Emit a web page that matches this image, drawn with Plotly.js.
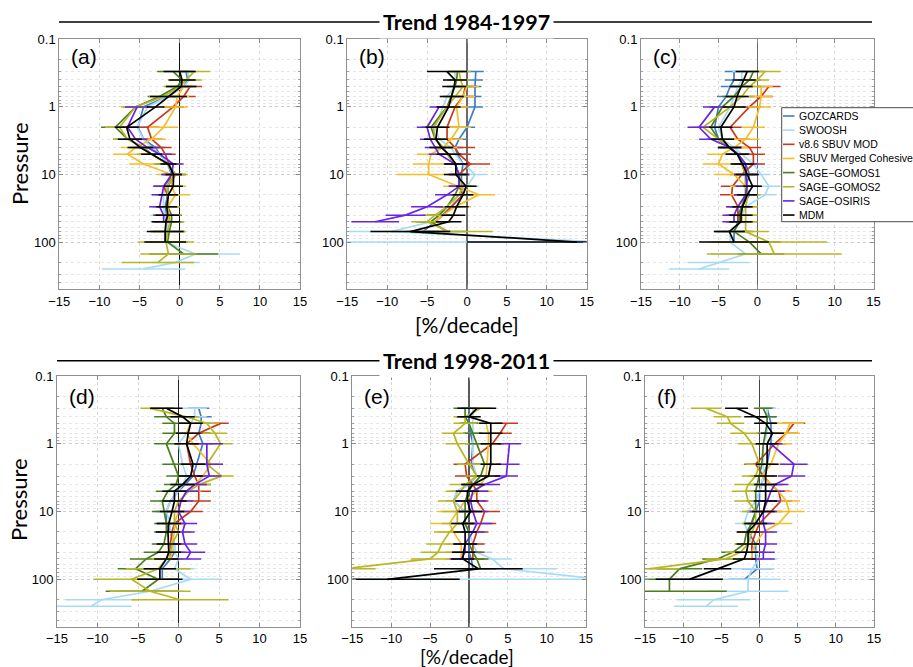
<!DOCTYPE html>
<html>
<head>
<meta charset="utf-8">
<script src="https://cdn.plot.ly/plotly-3.0.1.min.js"></script>
<style>html,body{margin:0;padding:0;background:#fff;}#chart{width:913px;height:667px;}</style>
</head>
<body>
<div id="chart"></div>
<script>
// ---------------- DATA ----------------
const pressure = [0.3,0.4,0.5,0.7,1,2,3,4,5,7,10,15,20,30,40,50,70,100,150,200,250];
const yTickVals = [0.1,1,10,100];
const yTickText = ['0.1','1','10','100'];
const xTickVals = [-15,-10,-5,0,5,10,15];
const seriesNames = ['GOZCARDS','SWOOSH','v8.6 SBUV MOD','SBUV Merged Cohesive','SAGE\u2212GOMOS1','SAGE\u2212GOMOS2','SAGE\u2212OSIRIS','MDM'];
const panelLabels = ['(a)','(b)','(c)','(d)','(e)','(f)'];
const rowTitles = ['Trend 1984-1997','Trend 1998-2011'];
const n = null;

// Panel (a) 1984-1997
const a_goz = [0.8,1.0,0.5,-1.5,-4.5,-5.2,-4.5,-3,-2.5,-1.5,-1,-1.5,-1.5,-1.8,-1.8,-1.7,-1.8,-1.8];
const a_gozErr = [1,1,1,1,1.2,1.2,1.2,1.2,1.2,1.2,1.2,1.2,1.2,1.5,1.5,1.5,1.8,2];
const a_swo = [1.0,1.2,0.5,-1.5,-4,-5.3,-4.5,-3.5,-2.5,-1.5,-0.8,-1.8,-2,-2,-1.8,-1.5,-1.5,-1.8,2.0,-0.5,-4.5];
const a_swoErr = [1.2,1.2,1.2,1.2,1.2,1.2,1.2,1.2,1.2,1.2,1.5,1.5,1.5,1.5,1.8,2,2,2.5,5.5,3,5.2];
const a_mod = [n,n,1.3,0.5,-0.8,-4,-3.5,-2.3,-1.8,-1.3,-0.8,-2,-1.5,-1.5,-1.5,-1.5];
const a_modErr = [n,n,1.5,1.5,1.3,1.5,1.3,1.3,1.3,1.3,1.2,1.2,1.2,1.2,1.2,1.2];
const a_mc = [n,n,0.5,-0.3,-0.5,-2,-3.5,-5.5,-6.5,-4.5,-1,-1,-0.5,-1.5,-1.5,-1.5];
const a_mcErr = [n,n,1.5,1.5,1.5,1.8,1.8,1.8,1.8,1.8,1.8,1.8,1.8,1.5,1.5,1.5];
const a_g1 = [-0.8,0.3,-0.3,-2.5,-5.5,-8,-6.5,-4.5,-3.5,-1.5,-0.5,-1.5,-1.5,-1.5,-1,-1,-1.3,-1.5,0.5];
const a_g1Err = [2,1.5,1.5,1.5,1.5,1.8,1.8,1.5,1.5,1.5,1.3,1.3,1.3,1.3,1.3,1.5,2,2.5,4.3];
const a_g2 = [1.8,0.8,0,-2,-5.5,-7.5,-6.5,-4.5,-3.5,-1.5,-0.5,-1.5,-1.5,-1.5,-1.3,-1.2,-1.5,-1.7,-1.4,-2.7];
const a_g2Err = [2,2,2,1.8,1.8,1.8,1.8,1.8,1.8,1.8,1.5,1.5,1.5,1.5,1.5,1.8,2.2,3.5,3.5,4.5];
const a_osi = [n,n,n,n,-5.3,-6.5,-5.5,-4,-2.5,-0.8,-1,-2,-2.2,-2.5,-2,-2];
const a_osiErr = [n,n,n,n,1.5,1.5,1.5,1.5,1.5,1.3,1.3,1.3,1.3,1.3,1.3,1.3];
const a_mdm = [0,0.3,0.2,-1.4,-3,-6.6,-6.2,-4.9,-3.5,-1.4,-0.75,-0.8,-1.4,-1.6,-1.5,-1.7,-1.8,-1.8];
const a_mdmErr = [2,1.7,1.9,2.3,1.1,1.5,1.5,1.6,1.3,1.0,1.0,1.2,1.2,1.3,1.5,1.8,2.3,2.6];

// Panel (b)
const b_goz = [1.1,1.0,1.0,1.0,1.0,0,-1,-1.5,-1.2,-0.5,-0.7,-0.7,-0.5,-2,-3,-4,-5.5];
const b_gozErr = [1,1,0.8,0.8,1,1,1,1,1,1,1,1,1,1.2,1.5,1.8,2];
const b_swo = [-1.5,-1.5,-1.5,-2.5,-3,-4,-3.5,-2,-1.5,-0.5,1.0,0,-1,-2,-3.5,-4.5,-9.5,17];
const b_swoErr = [1,1,1,1,1,1.2,1.2,1.2,1.2,1.2,1.5,1.5,1.5,1.5,1.8,2,5.5,32];
const b_mod = [n,n,-0.2,-0.5,-1.5,-2.5,-2.5,-1.5,-1.0,0.4,-1,-1,-0.5,-2,-3,-4];
const b_modErr = [n,n,1.5,1.5,1.5,1.5,1.5,2.5,1.5,2.5,1.3,1.3,1.3,1.3,1.3,1.3];
const b_mc = [n,n,0,-0.5,-1.3,-1,-2,-3,-4.5,-4.8,-4.8,-1,1.5,-1.5,-3,-4];
const b_mcErr = [n,n,1.5,1.5,1.5,1.5,1.5,1.8,1.8,2,4,2,2,2,2,2];
const b_g1 = [-1.2,-1.3,-1.5,-2,-2.5,-4.5,-4,-3,-2.5,-1.5,-1,-1,-1.5,-2.5,-3.5,-4.5,-2.5];
const b_g1Err = [1,1,1,1,1,1.2,1.2,1.2,1.2,1.2,1.2,1.2,1.2,1.5,1.5,1.8,2.5];
const b_g2 = [-1,-0.8,-0.5,-1.5,-2.5,-4.2,-4,-3,-2.5,-1.5,-1,-0.5,-1,-2.5,-4,-5,-2.3];
const b_g2Err = [1.5,1.2,1.2,1.2,1.2,1.2,1.2,1.2,1.2,1.2,1.2,1.2,1.2,1.5,1.5,2,5.5];
const b_osi = [n,n,n,n,-3.5,-5,-4.6,-4,-3.5,-1.5,-1,-1,-2.5,-5,-7.7,-11.5];
const b_osiErr = [n,n,n,n,1.2,1.3,1.3,1.3,1.3,1.3,1.3,1.3,1.5,2,2.5,3];
const b_mdm = [-2.5,-1.5,-1.6,-1.9,-2.3,-3.7,-3.9,-3.2,-2.3,-1.4,-1.4,-0.1,-0.5,-1.3,-1.7,-2.3,-7.1,13.8];
const b_mdmErr = [2.5,1.5,1.5,1.5,1.5,1.5,1.5,1.5,1.5,1.5,1.5,1.3,1.3,1.5,1.5,1.6,5,13.8];

// Panel (c)
const c_goz = [-3,-3,-3.5,-4,-5,-5.5,-5,-3.5,-2.5,-1.5,-1,-1.5,-1,-2,-2.5,-2.5,-3,-3];
const c_gozErr = [1.2,1.2,1.2,1.2,1.2,1.2,1.2,1.2,1.2,1.2,1.2,1.2,1.2,1.2,1.2,1.5,2,2.5];
const c_swo = [-2,-2,-2.5,-3,-3.5,-5,-4.5,-3,-2,-0.5,0.5,1.5,1.0,-1.5,-2,-2,-3.5,-3.5,-1.5,-5,-7.5];
const c_swoErr = [1.2,1.2,1.2,1.2,1.2,1.2,1.2,1.2,1.2,1.2,1.2,1.5,1.5,1.5,1.5,1.5,2,3,4.5,4,3.9];
const c_mod = [n,n,1.5,0.5,-1,-3.5,-2.5,-1,-0.5,-0.5,-2,-3.2,-3.3,-2.5,-2.5,-2.5];
const c_modErr = [n,n,1.5,1.5,1.5,1.5,1.5,1.5,1.5,1.5,1.5,1.5,1.5,1.5,1.5,1.5];
const c_mc = [n,n,0.5,0.5,0.3,-0.5,-1.5,-3,-4.5,-5,-3,-1.5,-1.5,-2,-2,-2];
const c_mcErr = [n,n,1.5,1.5,1.5,1.5,1.8,1.8,2,2,2.5,2,2,2,2,2];
const c_g1 = [-0.5,-1,-2,-3,-4.5,-6,-5,-3.5,-2.5,-2,-1.5,-1.5,-1.5,-2,-2.3,-2.3,-3,-1,0.5];
const c_g1Err = [1.5,1.5,1.5,1.5,1.5,1.5,1.5,1.5,1.5,1.5,1.5,1.5,1.5,1.5,1.5,1.5,2.5,4,3];
const c_g2 = [1.0,0,-1,-2,-3.5,-7,-5,-3.5,-2.5,-2,-1.5,-1.5,-1.2,-1.5,-1.5,-1.5,-1.5,1.5,2.2];
const c_g2Err = [2,1.5,1.5,1.5,1.5,1.5,1.5,1.5,1.5,1.5,1.5,1.5,1.5,1.5,1.5,1.5,3,7.5,8.7];
const c_osi = [n,n,n,n,-5.5,-7.5,-6,-3.5,-2.5,-1.5,-1.5,-1.3,-1.5,-2.5,-3,-3];
const c_osiErr = [n,n,n,n,1.5,1.5,1.5,1.5,1.5,1.5,1.5,1.5,1.5,1.5,1.5,1.5];
const c_mdm = [-1.3,-1.7,-2.1,-2.6,-3.0,-4.7,-4.5,-3.6,-2.6,-1.9,-1.3,-0.6,-1.3,-1.9,-2.1,-2.1,-3.6,-3.0];
const c_mdmErr = [1.5,1.5,1.5,1.5,1.5,1.5,1.5,1.5,1.5,1.5,1.5,1.2,1.3,1.3,1.5,1.5,2,4.5];

// Panel (d) 1998-2011
const d_goz = [2.5,2.8,2.8,2.5,3.0,2.2,1.8,0.8,0,-1,-1.5,-1.5,-1.0,-0.5,-0.5,-1,-2,-2];
const d_gozErr = [1.3,1.3,1.3,1.3,1.3,1.3,1.3,1.3,1.3,1.3,1.3,1.3,1.3,1.3,1.3,1.5,1.5,2];
const d_swo = [2,2,1.5,1,0,0.5,1.0,0.5,0,-1,-1.5,-1,-1,-0.5,-0.5,0,-0.5,1.5,-3.5,-9.5,-10.8];
const d_swoErr = [1.5,1.5,1.5,1.5,1.5,1.5,1.5,1.5,1.5,1.5,1.5,1.5,1.5,1.5,1.5,1.5,2.5,3.8,4,4.5,5];
const d_mod = [n,n,5.2,2.5,1,1.5,2,2.5,2.5,2.5,1.5,-0.5,-0.8,-1,-1,-1];
const d_modErr = [n,n,1,1.5,1.5,1.5,1.5,1.5,1.5,1.5,1.5,1.5,1.5,1.5,1.5,1.5];
const d_mc = [n,n,1.5,1.0,1.8,4,3,2,1,0.3,0,-0.5,-0.5,-0.8,-0.8,-1];
const d_mcErr = [n,n,1.5,1.5,1.5,1.5,1.5,1.5,1.5,1.5,1.5,1.5,1.5,1.5,1.5,1.5];
const d_g1 = [-2,-1.5,-0.5,-0.5,-1.5,-0.5,0,-0.3,-1.3,-2,-1.8,-1.5,-1.5,-1.8,-2.5,-4,-5.3,-2.5,-4.5];
const d_g1Err = [1.5,1.5,1.5,1.5,1.5,1.5,1.5,1.5,1.5,1.5,1.5,1.5,1.5,1.5,1.8,2,2.2,2.5,4.5];
const d_g2 = [-3.5,1,3.5,4.5,5.2,3.5,5.3,2.5,1.3,0,-0.5,-0.5,0,-0.8,-1,-1.5,-2.5,-5.8,-3.5,0.2];
const d_g2Err = [1.2,1.5,1.5,1.5,1.5,1.5,1.5,1.5,1.5,1.5,1.5,1.5,1.5,1.5,1.5,1.8,4,4.7,5,6];
const d_osi = [n,n,n,n,3.5,3.5,3.8,2,1.0,0.3,0,0.8,0.5,0.8,1.5,1];
const d_osiErr = [n,n,n,n,2,2,1.5,1.5,1.5,1.5,1.5,1.5,1.5,1.5,1.8,1.8];
const d_mdm = [-1.5,0.5,1.5,1.2,1.0,1.8,1.5,0.5,-0.5,-0.5,-0.8,-1.2,-1.3,-1.2,-1.2,-1.5,-2.3,-2.3];
const d_mdmErr = [2,1.5,1.5,1.5,1.5,1.5,1.5,1.5,1.5,1.5,1.5,1.5,1.5,1.5,1.5,1.5,2,2.8];

// Panel (e)
const e_goz = [0,0,0,0.2,0.5,0.3,1,0,-1.5,-2,-0.5,-0.5,0,0,0,0.3,0.5];
const e_gozErr = [1,1,1,1,1,1,1,1,1,1,1,1,1,1.2,1.2,1.5,2];
const e_swo = [0.5,0.5,0.5,0.5,0.5,0.5,1,0,-1.5,-2,-0.5,-0.5,0,0.5,1,3,4.5,17];
const e_swoErr = [1,1,1,1,1,1,1,1,1,1,1.5,1.5,1.5,1.5,2,2.5,6.8,32];
const e_mod = [n,n,4.8,4,3,-0.5,-0.3,0.5,1,1,2,1.5,1,0.5,0.5,0.5];
const e_modErr = [n,n,1.5,1.5,1.5,1.5,1.5,1.5,1.5,1.5,2,2,1.5,1.5,1.5,1.5];
const e_mc = [n,n,2.2,2.5,2.5,2.3,2.2,1.5,1,-0.5,-1.5,-2.5,-2,-1,-1,-1];
const e_mcErr = [n,n,1.5,1.5,1.5,1.5,1.5,1.8,2,2,2.5,2.5,2,2,2,2];
const e_g1 = [-0.5,-0.5,0,0.5,1,2,1.5,0.5,0,-0.5,-0.5,-0.5,0,0,0.5,1.0,1.5];
const e_g1Err = [1.5,1.2,1.2,1.2,1.2,1.2,1.2,1.2,1.2,1.2,1.2,1.2,1.2,1.2,1.2,1.5,2];
const e_g2 = [1.5,-0.5,-0.5,-2,-1.5,0,1,-0.5,-1,-2,-1.5,-1.5,-2.5,-3.5,-4,-5,-16];
const e_g2Err = [1.5,1.5,1.5,1.5,1.5,1.5,1.5,2,2,2,2,2,2,2,2.2,2.5,4];
const e_osi = [n,n,n,n,5.2,5,4.8,2,0.5,0.2,0.5,1,0.5,-0.5,-0.5,-1];
const e_osiErr = [n,n,n,n,1.5,1.5,1.5,2,2,2,2,2,1.5,1.5,1.5,1.5];
const e_mdm = [1.0,0,2.8,2.8,2.8,2.8,2.5,0.5,-0.2,-0.2,0.2,-0.8,-0.5,-0.5,-0.7,-0.8,1.2,-10.5];
const e_mdmErr = [2.5,1.5,1.5,1.5,1.3,1.3,1.5,1.5,1.5,1.5,1.5,1.5,1.5,1.5,1.5,1.5,5.7,9.3];

// Panel (f)
const f_goz = [1,1.3,1.5,1.5,1.5,1,0.5,0.3,0,0,-0.5,-1,-1.5,-0.5,-0.5,-0.5,-0.3,-2];
const f_gozErr = [1,1,1,1,1,1,1,1,1,1,1,1,1,1,1,1,2,2];
const f_swo = [1,1,1,1,0.5,0.5,0.5,0.3,0,-0.5,-1.5,-2,-1.5,-1,-0.5,0,-1,-1.5,-1.5,-6,-7];
const f_swoErr = [1.2,1.2,1.2,1.2,1.2,1.2,1.2,1.2,1.2,1.2,1.2,1.2,1.2,1.2,1.5,2.3,3,4.3,5.3,4.8,4.2];
const f_mod = [n,n,4.5,3.5,2,-0.5,0.5,1.5,2.5,2.8,1.5,0,-0.5,-1,-1,-1];
const f_modErr = [n,n,1.5,1.5,1.5,1.5,1.5,1.5,1.5,1.5,1.5,1.5,1.5,1.5,1.5,1.5];
const f_mc = [n,n,4,3.5,2.5,1.5,0.3,1.5,2.5,3.5,3.9,2.5,0.5,-0.5,-1,-1];
const f_mcErr = [n,n,1.8,1.8,1.8,1.8,1.8,1.8,1.8,1.8,2,1.8,1.5,1.5,1.5,1.5];
const f_g1 = [0.5,1,1,0.8,0.5,0.3,0,-0.3,-0.5,-0.5,-0.5,-1,-1.7,-2,-3.5,-5.5,-10.5,-11.8,-11.8];
const f_g1Err = [1.2,1.2,1.2,1.2,1.2,1.2,1.2,1.2,1.2,1.2,1.2,1.2,1.2,1.2,1.5,2,3,3.2,7.5];
const f_g2 = [-7,-4.2,-3.8,-2,-1,0,-0.5,-1.5,-1.8,-1.5,-0.5,-0.5,-1,-1.5,-2.5,-4.5,-14.5];
const f_g2Err = [2,1.8,1.8,1.8,1.8,1.8,1.8,1.8,1.8,1.8,1.8,1.8,1.8,1.8,2,2.5,4];
const f_osi = [n,n,n,n,1.5,4.5,4.2,2,1.5,1,0.5,0.5,0.8,0.8,0.5,0.5];
const f_osiErr = [n,n,n,n,1.5,1.8,1.8,1.8,1.8,1.8,1.8,1.5,1.5,1.5,1.5,1.5];
const f_mdm = [-3,-0.5,0.8,1.7,1,1,0.8,0.8,0.8,0.8,0.5,-0.5,-1.5,-1.5,-1.7,-2,-5.5,-9.2];
const f_mdmErr = [1.5,1.5,1.5,1.5,1.5,1.5,1.5,1.5,1.5,1.5,1.5,1.5,1.5,1.5,1.5,1.5,1.8,4.4];

// ---------------- STYLE ----------------
const colors = ['#3d7ccc','#a8dbf3','#c8381c','#f4be26','#4a7e1d','#b9b624','#6a24e4','#000000'];
const W = 913, H = 667;
const px = x => x / W, py = y => 1 - y / H;
// panel boxes in pixels [left, right, top, bottom]
const boxes = [[59.3,300,39.3,289.3],[347.3,586.7,39.3,289.3],[641,873.5,39.3,289.3],
               [57,300,376,626.7],[352.3,585.7,376,626.7],[645,874,376,626.7]];
const zeroColors = ['#111','#6a6a6a','#6a6a6a','#222','#5a5a5a','#444'];

const panels = [
  {vals:[a_goz,a_swo,a_mod,a_mc,a_g1,a_g2,a_osi,a_mdm], errs:[a_gozErr,a_swoErr,a_modErr,a_mcErr,a_g1Err,a_g2Err,a_osiErr,a_mdmErr]},
  {vals:[b_goz,b_swo,b_mod,b_mc,b_g1,b_g2,b_osi,b_mdm], errs:[b_gozErr,b_swoErr,b_modErr,b_mcErr,b_g1Err,b_g2Err,b_osiErr,b_mdmErr]},
  {vals:[c_goz,c_swo,c_mod,c_mc,c_g1,c_g2,c_osi,c_mdm], errs:[c_gozErr,c_swoErr,c_modErr,c_mcErr,c_g1Err,c_g2Err,c_osiErr,c_mdmErr]},
  {vals:[d_goz,d_swo,d_mod,d_mc,d_g1,d_g2,d_osi,d_mdm], errs:[d_gozErr,d_swoErr,d_modErr,d_mcErr,d_g1Err,d_g2Err,d_osiErr,d_mdmErr]},
  {vals:[e_goz,e_swo,e_mod,e_mc,e_g1,e_g2,e_osi,e_mdm], errs:[e_gozErr,e_swoErr,e_modErr,e_mcErr,e_g1Err,e_g2Err,e_osiErr,e_mdmErr]},
  {vals:[f_goz,f_swo,f_mod,f_mc,f_g1,f_g2,f_osi,f_mdm], errs:[f_gozErr,f_swoErr,f_modErr,f_mcErr,f_g1Err,f_g2Err,f_osiErr,f_mdmErr]}
];

// minor log grid positions (2..9 per decade)
const minorVals = [];
[0.1,1,10,100].forEach(d => { for (let k = 2; k <= 9; k++) { if (d*k <= 500) minorVals.push(d*k); } });

const tickFont = {family:'Liberation Sans, Arial, sans-serif', size:13, color:'#000'};
const traces = [];
const layout = {
  width: W, height: H, margin:{l:0,r:0,t:0,b:0},
  paper_bgcolor:'#fff', plot_bgcolor:'#fff', showlegend:false,
  shapes: [], annotations: []
};

panels.forEach((p, i) => {
  const sx = i === 0 ? '' : String(i+1);
  const b = boxes[i];
  layout['xaxis'+sx] = {
    domain:[px(b[0]), px(b[1])], anchor:'y'+sx, range:[-15,15],
    tickvals:xTickVals, tickfont:tickFont, ticks:'inside', ticklen:4, tickcolor:'#8a8a8a',
    showgrid:true, gridcolor:'#dadada', griddash:'dot', gridwidth:1,
    zeroline:true, zerolinecolor:zeroColors[i], zerolinewidth:1.3,
    showline:true, linecolor:'#8f8f8f', linewidth:1, mirror:'ticks', fixedrange:true
  };
  layout['yaxis'+sx] = {
    domain:[py(b[3]), py(b[2])], anchor:'x'+sx, type:'log', range:[Math.log10(500), -1],
    tickvals:yTickVals, ticktext:yTickText, tickfont:tickFont, ticks:'inside', ticklen:4, tickcolor:'#8a8a8a',
    showgrid:true, gridcolor:'#cdcdcd', griddash:'dot', gridwidth:1,
    minor:{tickvals:minorVals, ticks:'inside', ticklen:2, tickcolor:'#a0a0a0', showgrid:true, gridcolor:'#e6e6e6', griddash:'dot', gridwidth:1},
    showline:true, linecolor:'#8f8f8f', linewidth:1, mirror:'ticks', zeroline:false, fixedrange:true
  };
  p.vals.forEach((v, k) => {
    traces.push({
      type:'scatter', mode:'lines', name:seriesNames[k], x:v, y:pressure,
      xaxis:'x'+sx, yaxis:'y'+sx, showlegend:false,
      line:{color:colors[k], width:1.7},
      error_x:{type:'data', array:p.errs[k], visible:true, width:0, thickness:1.5, color:colors[k]},
      hoverinfo:'x+y+name'
    });
  });
  // panel label
  layout.annotations.push({
    xref:'paper', yref:'paper', x:px(b[0]+10), y:py(b[2] + (i < 3 ? 17.5 : 20)),
    xanchor:'left', yanchor:'middle', showarrow:false, text:panelLabels[i],
    font:{family:'Liberation Sans, Arial, sans-serif', size:21, color:'#000'}
  });
});

// row title rules and titles
const ruleY = [22, 360.7];
ruleY.forEach((yy, r) => {
  layout.shapes.push({type:'line', xref:'paper', yref:'paper', x0:px(r===0?59:57), x1:px(872), y0:py(yy), y1:py(yy),
    line:{color:'#000', width:1.6}, layer:'above'});
  layout.annotations.push({xref:'paper', yref:'paper', x:px(466), y:py(yy), xanchor:'center', yanchor:'middle',
    showarrow:false, text:'<b>'+rowTitles[r]+'</b>', bgcolor:'#fff', borderpad:3,
    font:{family:'Lato, Liberation Sans, sans-serif', size:21.5, color:'#000'}});
});

// y titles and x titles
[164, 500].forEach(yc => layout.annotations.push({xref:'paper', yref:'paper', x:px(19), y:py(yc), xanchor:'center', yanchor:'middle',
  showarrow:false, textangle:-90, text:'Pressure', font:{family:'Lato, Liberation Sans, sans-serif', size:22, color:'#000'}}));
[[324,21],[656,19]].forEach(t => layout.annotations.push({xref:'paper', yref:'paper', x:px(467), y:py(t[0]), xanchor:'center', yanchor:'middle',
  showarrow:false, text:'[%/decade]', font:{family:'Lato, Liberation Sans, sans-serif', size:t[1], color:'#000'}}));

// legend (drawn in panel c)
const legL = 781.7, legT = 107.7, legStep = 14.15;
layout.shapes.push({type:'rect', xref:'paper', yref:'paper', x0:px(legL), x1:px(916), y0:py(legT), y1:py(legT + legStep*8 + 0.8),
  fillcolor:'#fff', line:{color:'#4a4a4a', width:1}, layer:'above'});
seriesNames.forEach((nm, k) => {
  const yc = legT + 8.3 + k*legStep;
  layout.shapes.push({type:'line', xref:'paper', yref:'paper', x0:px(783), x1:px(794.5), y0:py(yc), y1:py(yc),
    line:{color:colors[k], width:1.6}, layer:'above'});
  layout.annotations.push({xref:'paper', yref:'paper', x:px(796.5), y:py(yc), xanchor:'left', yanchor:'middle',
    showarrow:false, text:nm, font:{family:'Liberation Sans, Arial, sans-serif', size:10.5, color:'#000'}});
});

Plotly.newPlot('chart', traces, layout, {displayModeBar:false, staticPlot:true});
</script>
</body>
</html>
